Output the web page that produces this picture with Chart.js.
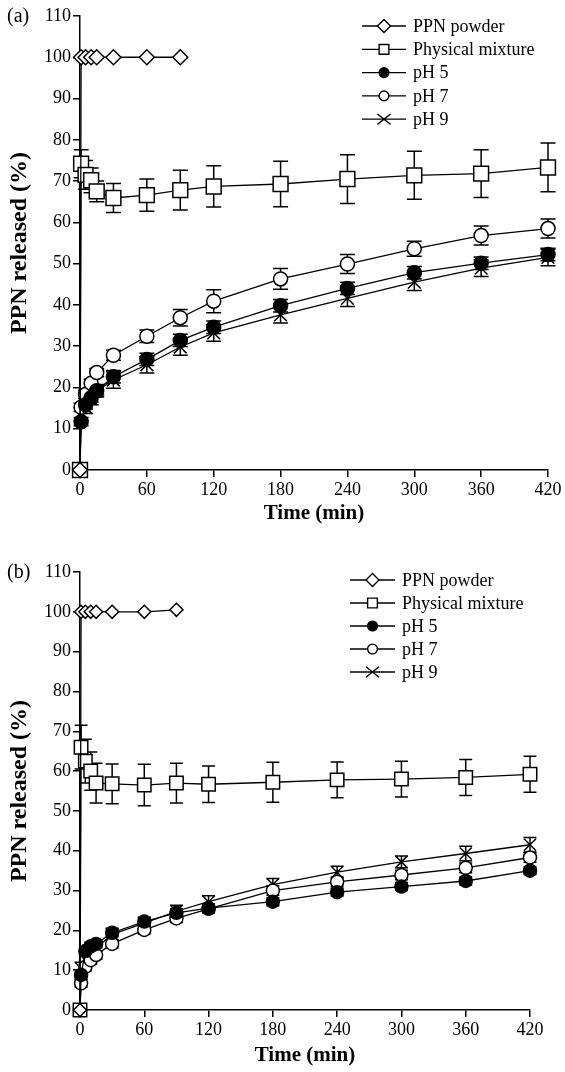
<!DOCTYPE html>
<html>
<head>
<meta charset="utf-8">
<script src="https://cdn.jsdelivr.net/npm/chart.js"></script>
<style>
  body { margin: 0; background: #fff; }
  canvas { display: block; }
</style>
</head>
<body>
<canvas id="chartA" width="565" height="530"></canvas>
<canvas id="chartB" width="565" height="542"></canvas>
<script>
/*----------- data ------------ */
const times = [0, 1, 5, 10, 15, 30, 60, 90, 120, 180, 240, 300, 360, 420];
const powderTimes = [0, 1, 5, 10, 15, 30, 60, 90];
const xTicks = [0, 60, 120, 180, 240, 300, 360, 420];
const yTicks = [0, 10, 20, 30, 40, 50, 60, 70, 80, 90, 100, 110];
const seriesNames = ['PPN powder', 'Physical mixture', 'pH 5', 'pH 7', 'pH 9'];

// panel (a)
const powderA = [0, 100, 100, 100, 100, 100, 100, 100];
const mixA = [0, 74.2, 71.5, 70.2, 67.5, 65.9, 66.6, 67.8, 68.7, 69.3, 70.5, 71.4, 71.8, 73.3];
const mixErrA = [0, 3.4, 3.5, 3, 2.5, 3.5, 3.9, 4.8, 5, 5.5, 5.9, 5.8, 5.8, 5.9];
const ph5A = [0, 11.7, 15.8, 17.5, 19.2, 22.6, 26.8, 31.4, 34.6, 39.8, 44, 47.8, 50.1, 52.2];
const ph5ErrA = [0, 1, 1, 1, 1, 1.5, 1.5, 1.5, 1.5, 1.5, 1.5, 1.5, 1.5, 1.5];
const ph7A = [0, 15.2, 18.3, 21, 23.6, 27.8, 32.4, 36.9, 40.9, 46.3, 49.9, 53.6, 56.8, 58.5];
const ph7ErrA = [0, 1, 1, 1, 1, 1.2, 1.5, 2, 2.8, 2.5, 2.3, 1.8, 2.3, 2.3];
const ph9A = [0, 13.5, 15.2, 17.3, 19.2, 21.8, 25.5, 29.8, 33.2, 37.6, 41.6, 45.5, 48.9, 51.5];
const ph9ErrA = [0, 1.5, 1.5, 1.5, 1.5, 2, 2, 2, 2, 2, 2, 2, 2, 2];

// panel (b)
const powderB = [0, 100, 100, 100, 100, 100, 100, 100.5];
const mixB = [0, 66, 62.5, 60, 57, 56.8, 56.5, 57, 56.7, 57.2, 57.8, 58, 58.4, 59.2];
const mixErrB = [0, 5.5, 5.5, 4.8, 5, 5, 5.2, 5, 4.6, 5, 4.5, 4.5, 4.5, 4.5];
const ph5B = [0, 8.8, 14.8, 16, 16.6, 19.4, 22.2, 24.4, 25.6, 27.2, 29.6, 31, 32.4, 35];
const ph5ErrB = [0, 1, 1, 1, 1, 1, 1, 1, 1, 1, 1, 1, 1, 1];
const ph7B = [0, 6.7, 10.8, 12.5, 13.8, 16.6, 20.1, 23, 25.4, 30, 32.2, 33.9, 35.7, 38.3];
const ph7ErrB = [0, 1, 1, 1, 1, 1, 1, 1, 1, 1.2, 1.2, 1.2, 1.2, 1.2];
const ph9B = [0, 10.5, 12.5, 14.5, 15.5, 19, 21.8, 24.8, 27.2, 31.5, 34.6, 37.2, 39.3, 41.5];
const ph9ErrB = [0, 1.5, 1.5, 1.5, 1.5, 1.5, 1.5, 1.5, 1.5, 1.5, 1.5, 1.5, 1.8, 1.8];

const FONT = '"Liberation Serif", "Times New Roman", serif';

function pts(xs, ys) {
    return ys.map((v, i) => ({ x: xs[i], y: v }));
}

/*----------- error bars ------------ */
const errorBars = {
    id: 'errorBars',
    beforeDatasetsDraw(chart) {
        const ctx = chart.ctx;
        const yScale = chart.scales.y;
        ctx.save();
        ctx.strokeStyle = '#000';
        ctx.lineWidth = 1.5;
        chart.data.datasets.forEach((ds, i) => {
            if (!ds.errors) return;
            const meta = chart.getDatasetMeta(i);
            meta.data.forEach((p, j) => {
                const e = ds.errors[j];
                if (!e) return;
                const v = ds.data[j].y;
                const top = yScale.getPixelForValue(v + e);
                const bot = yScale.getPixelForValue(v - e);
                const c = ds.capWidth / 2;
                ctx.beginPath();
                ctx.moveTo(p.x, top); ctx.lineTo(p.x, bot);
                ctx.moveTo(p.x - c, top); ctx.lineTo(p.x + c, top);
                ctx.moveTo(p.x - c, bot); ctx.lineTo(p.x + c, bot);
                ctx.stroke();
            });
        });
        ctx.restore();
    }
};

/*----------- legend + panel letter ------------ */
function drawMarker(ctx, style, fill, x, y, r) {
    ctx.beginPath();
    if (style === 'rectRot') {
        ctx.moveTo(x, y - r); ctx.lineTo(x + r, y); ctx.lineTo(x, y + r); ctx.lineTo(x - r, y); ctx.closePath();
    } else if (style === 'rect') {
        ctx.rect(x - r * 0.75, y - r * 0.75, r * 1.5, r * 1.5);
    } else if (style === 'circle') {
        ctx.arc(x, y, r * 0.75, 0, Math.PI * 2);
    } else {
        ctx.moveTo(x - r, y - r * 0.8); ctx.lineTo(x + r, y + r * 0.8);
        ctx.moveTo(x - r, y + r * 0.8); ctx.lineTo(x + r, y - r * 0.8);
        ctx.stroke();
        return;
    }
    ctx.fillStyle = fill;
    ctx.fill();
    ctx.stroke();
}

const ownLegend = {
    id: 'ownLegend',
    afterDraw(chart, args, opts) {
        const ctx = chart.ctx;
        ctx.save();
        ctx.strokeStyle = '#000';
        ctx.fillStyle = '#000';
        ctx.font = '20px ' + FONT;
        ctx.textBaseline = 'middle';
        ctx.fillText(opts.letter, 7, opts.letterY);
        ctx.font = '18px ' + FONT;
        chart.data.datasets.forEach((ds, i) => {
            const y = opts.y + i * opts.gap;
            ctx.lineWidth = 1.3;
            ctx.beginPath();
            ctx.moveTo(opts.x, y); ctx.lineTo(opts.x + opts.len, y);
            ctx.stroke();
            ctx.lineWidth = 1.4;
            drawMarker(ctx, ds.pointStyle, ds.pointBackgroundColor, opts.x + opts.len / 2, y, 6.5);
            ctx.fillStyle = '#000';
            ctx.fillText(ds.label, opts.x + opts.len + 7, y + 1);
        });
        ctx.restore();
    }
};

function makeDatasets(p, sizes) {
    const base = {
        borderColor: '#000',
        borderWidth: 1.3,
        pointBorderColor: '#000',
        pointBorderWidth: 1.5,
        tension: 0,
        clip: false,
        capWidth: sizes.cap
    };
    return [
        Object.assign({}, base, { label: seriesNames[0], data: pts(powderTimes, p.powder),
            pointStyle: 'rectRot', pointRadius: sizes.diamond, pointBackgroundColor: '#fff' }),
        Object.assign({}, base, { label: seriesNames[1], data: pts(times, p.mix), errors: p.mixErr,
            pointStyle: 'rect', pointRadius: sizes.square, pointBackgroundColor: '#fff' }),
        Object.assign({}, base, { label: seriesNames[2], data: pts(times, p.ph5), errors: p.ph5Err,
            pointStyle: 'circle', pointRadius: sizes.circle, pointBackgroundColor: '#000' }),
        Object.assign({}, base, { label: seriesNames[3], data: pts(times, p.ph7), errors: p.ph7Err,
            pointStyle: 'circle', pointRadius: sizes.circle, pointBackgroundColor: '#fff' }),
        Object.assign({}, base, { label: seriesNames[4], data: pts(times, p.ph9), errors: p.ph9Err,
            pointStyle: 'crossRot', pointRadius: sizes.cross, pointBackgroundColor: '#000' })
    ];
}

function makeChart(id, p, layout) {
    return new Chart(document.getElementById(id), {
        type: 'line',
        data: { datasets: makeDatasets(p, layout.sizes) },
        options: {
            responsive: false,
            animation: false,
            devicePixelRatio: 1,
            layout: { padding: { top: layout.top, right: layout.right, left: 0, bottom: 0 } },
            plugins: {
                legend: { display: false },
                tooltip: { enabled: false },
                ownLegend: layout.legend
            },
            scales: {
                x: {
                    type: 'linear',
                    min: 0, max: 420,
                    afterBuildTicks: s => { s.ticks = xTicks.map(v => ({ value: v })); },
                    afterFit: s => { s.height = layout.xHeight; },
                    grid: { drawOnChartArea: false, drawTicks: true, tickLength: 7, color: '#000', lineWidth: 1.5 },
                    border: { color: '#000', width: 1.5 },
                    ticks: { color: '#000', padding: 2, maxRotation: 0, font: { family: FONT, size: 18 } },
                    title: { display: true, text: 'Time (min)', color: '#000', padding: { top: 0, bottom: 4 },
                        font: { family: FONT, size: 21, weight: 'bold' } }
                },
                y: {
                    min: 0, max: 110,
                    afterBuildTicks: s => { s.ticks = yTicks.map(v => ({ value: v })); },
                    afterFit: s => { s.width = 80; },
                    grid: { drawOnChartArea: false, drawTicks: true, tickLength: 7, color: '#000', lineWidth: 1.5 },
                    border: { color: '#000', width: 1.5 },
                    ticks: { color: '#000', padding: 2, font: { family: FONT, size: 18 } },
                    title: { display: true, text: 'PPN released (%)', color: '#000', padding: { top: 5, bottom: 0 },
                        font: { family: FONT, size: 24, weight: 'bold' } }
                }
            }
        },
        plugins: [errorBars, ownLegend]
    });
}

makeChart('chartA', {
    powder: powderA, mix: mixA, mixErr: mixErrA,
    ph5: ph5A, ph5Err: ph5ErrA, ph7: ph7A, ph7Err: ph7ErrA, ph9: ph9A, ph9Err: ph9ErrA
}, {
    top: 16, right: 17, xHeight: 60,
    sizes: { diamond: 7.5, square: 10.5, circle: 7, cross: 9, cap: 15 },
    legend: { letter: '(a)', letterY: 17, x: 362, len: 44, y: 26, gap: 23.3 }
});

makeChart('chartB', {
    powder: powderB, mix: mixB, mixErr: mixErrB,
    ph5: ph5B, ph5Err: ph5ErrB, ph7: ph7B, ph7Err: ph7ErrB, ph9: ph9B, ph9Err: ph9ErrB
}, {
    top: 42, right: 35, xHeight: 62,
    sizes: { diamond: 6.5, square: 9.5, circle: 6.5, cross: 8.5, cap: 13 },
    legend: { letter: '(b)', letterY: 43, x: 350, len: 45, y: 50, gap: 23 }
});
</script>
</body>
</html>
